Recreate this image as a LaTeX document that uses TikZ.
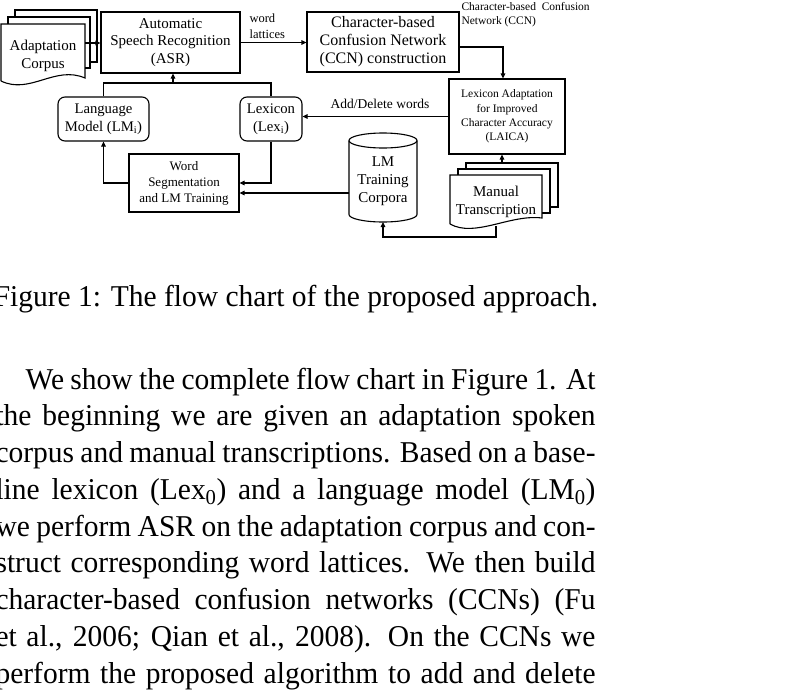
\documentclass[tikz,border=0pt]{standalone}
\usepackage{fontspec}
\setmainfont{Liberation Serif}
\newfontfamily\bodyfont[FakeStretch=0.975]{Liberation Serif}
\usetikzlibrary{arrows.meta}
\begin{document}
\begin{tikzpicture}[x=1pt,y=-1pt,line width=1.1pt,
  arr/.style={-{Triangle[length=5pt,width=4.5pt]}},
  box/.style={draw,inner sep=0pt,align=center},
  rbox/.style={box,rounded corners=7pt},
  lbl/.style={inner sep=0pt,align=center},
  txtline/.style={anchor=base west,inner sep=0pt,font=\bodyfont\fontsize{30.25}{36.75}\selectfont}]
\useasboundingbox (0,0) rectangle (792,691);

% ---------- boxes ----------
\node[box,minimum width=139pt,minimum height=61pt,font=\fontsize{15}{17.5}\selectfont] (asr) at (170.5,42.5) {Automatic\\Speech Recognition\\(ASR)};
\node[box,minimum width=152pt,minimum height=60pt,font=\fontsize{16}{18}\selectfont] (ccn) at (383,42) {Character-based\\Confusion Network\\(CCN) construction};
\node[box,minimum width=116pt,minimum height=75pt,font=\fontsize{11.5}{14.3}\selectfont] (laica) at (507,116.5) {Lexicon Adaptation\\for Improved\\Character Accuracy\\(LAICA)};
\node[rbox,minimum width=91pt,minimum height=44pt,font=\fontsize{14.7}{18}\selectfont] (lm) at (103.5,119) {Language\\Model (LM\textsubscript{i})};
\node[rbox,minimum width=62pt,minimum height=44pt,font=\fontsize{14.7}{18}\selectfont] (lex) at (271,119) {Lexicon\\(Lex\textsubscript{i})};
\node[box,minimum width=110pt,minimum height=58pt,font=\fontsize{13}{16}\selectfont] (ws) at (184,183) {Word\\Segmentation\\and LM Training};

% ---------- cylinder ----------
\draw (383,140.5) ellipse[x radius=34,y radius=7.5];
\draw (349,140.5) -- (349,214.5) arc[start angle=180,end angle=0,x radius=34,y radius=7.5] -- (417,140.5);
\node[lbl,font=\fontsize{15}{18}\selectfont] (corp) at (383,181) {LM\\Training\\Corpora};
\coordinate (corpL) at (349,193);
\coordinate (corpB) at (383,222);

% ---------- adaptation corpus stack ----------
\draw (15,17) -- (15,10) -- (97,10) -- (97,62) -- (90,62);
\draw (8,24) -- (8,17) -- (90,17) -- (90,68) -- (85,68);
\draw (1,81) -- (1,24) -- (85,24) -- (85,78) .. controls (55,65) and (30,95) .. (1,81);
\node[lbl,font=\fontsize{15}{18}\selectfont] (adapt) at (43,56) {Adaptation\\Corpus};
\coordinate (adaptR) at (85,43);

% ---------- manual transcription stack ----------
\draw (466,169) -- (466,163) -- (558,163) -- (558,207) -- (550,207);
\draw (458,175) -- (458,169) -- (550,169) -- (550,213) -- (542,213);
\draw (450,224) -- (450,175) -- (542,175) -- (542,218) .. controls (510,214) and (475,238) .. (450,224);
\node[lbl,font=\fontsize{15}{18}\selectfont] (man) at (496,202) {Manual\\Transcription};
\coordinate (manT) at (502,163);
\coordinate (manB) at (496,226);

% ---------- labels ----------
\node[lbl,align=left,anchor=west,font=\fontsize{12.5}{16}\selectfont] (wl) at (249,26) {word\\lattices};
\node[lbl,align=left,anchor=west,font=\fontsize{11.5}{14}\selectfont] (ccnl) at (461,15) {Character-based\ \ Confusion\\Network (CCN)};
\node[lbl,font=\fontsize{13.5}{16}\selectfont] (adl) at (380,104) {Add/Delete words};

% ---------- connectors ----------
\draw[arr] (adaptR) -- (adaptR -| asr.west);
\draw[arr] (asr.east) -- (asr.east -| ccn.west);
\coordinate (ccnR) at (459,47);
\draw[arr] (ccnR) -| ([xshift=-4pt]laica.north);
\draw[arr] (manT) -- (manT |- laica.south);
\draw[arr] (laica.west) -- (laica.west -| lex.east);
\coordinate (junc) at (173,83);
\draw (lm.north) |- (junc) -| (lex.north);
\draw[arr] (junc) -- (junc |- asr.south);
\draw[arr] (ws.west) -| (lm.south);
\draw[arr] (lex.south) |- (ws.east);
\draw[arr] (corpL) -- (corpL -| ws.east);
\draw[arr] (manB) -- ++(0,11) -| (corpB);

% ---------- caption and text ----------
\node[anchor=base,inner sep=0pt,font=\bodyfont\fontsize{30.25}{36.75}\selectfont] (cap) at (296,306) {Figure 1: The flow chart of the proposed approach.};
\node[txtline] (t1) at (-5,389) {\hbox to 600pt{\hspace*{30pt}We show the complete flow chart in Figure 1. At}};
\node[txtline] (t2) at (-5,425.75) {\hbox to 600pt{the beginning we are given an adaptation spoken}};
\node[txtline] (t3) at (-5,462.5) {\hbox to 600pt{corpus and manual transcriptions. Based on a base-}};
\node[txtline] (t4) at (-5,499.25) {\hbox to 600pt{line lexicon (Lex\textsubscript{0}) and a language model (LM\textsubscript{0})}};
\node[txtline] (t5) at (-5,536) {\hbox to 600pt{we perform ASR on the adaptation corpus and con-}};
\node[txtline] (t6) at (-5,572.75) {\hbox to 600pt{struct corresponding word lattices. We then build}};
\node[txtline] (t7) at (-5,609.5) {\hbox to 600pt{character-based confusion networks (CCNs) (Fu}};
\node[txtline] (t8) at (-5,646.25) {\hbox to 600pt{et al., 2006; Qian et al., 2008). On the CCNs we}};
\node[txtline] (t9) at (-5,683) {\hbox to 600pt{perform the proposed algorithm to add and delete}};
\end{tikzpicture}
\end{document}
